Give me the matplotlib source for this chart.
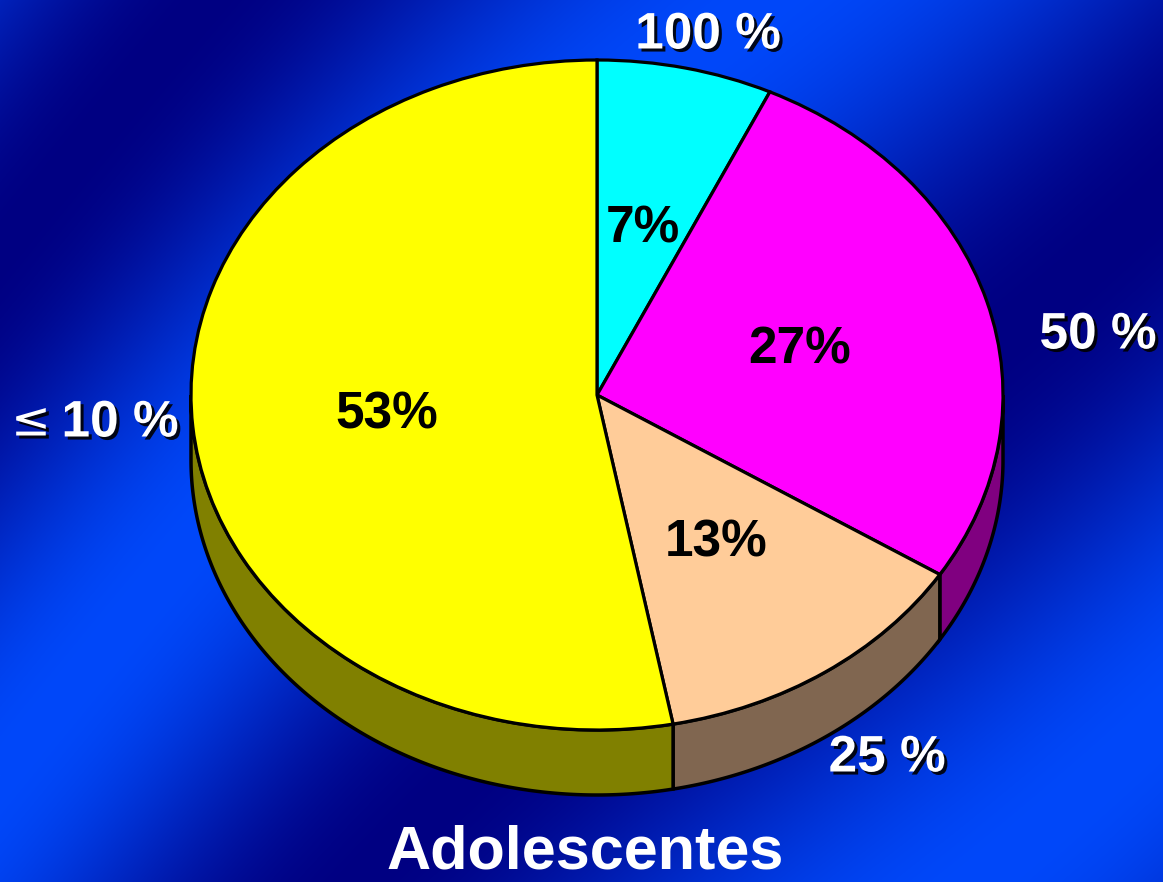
"""
3D-style pie chart: Adolescentes.
"""

import matplotlib
matplotlib.use("Agg")
import matplotlib.pyplot as plt
import matplotlib.patheffects as pe
from matplotlib.patches import Wedge, Polygon
from matplotlib.transforms import Affine2D
import numpy as np

# data
categories = ["100 %", "50 %", "25 %", "\u2264 10 %"]
shares = [7, 27, 13, 53]
top_colors = ["#00FFFF", "#FF00FF", "#FFCC99", "#FFFF00"]
side_colors = ["#008080", "#800080", "#806650", "#808000"]
title = "Adolescentes"

W, H = 1163, 882
fig = plt.figure(figsize=(W / 100, H / 100), dpi=100)
ax = fig.add_axes([0, 0, 1, 1])
ax.set_xlim(0, W)
ax.set_ylim(H, 0)
ax.axis("off")

# --- background: diagonal wavy blue gradient ---
yy, xx = np.mgrid[0:H, 0:W]
u = xx + yy + 60 * np.sin(xx / 260.0)
b = 0.5 - 0.5 * np.cos(2 * np.pi * (u - 250) / 1050.0)
dark = np.array([0, 0, 130]) / 255
bright = np.array([0, 72, 250]) / 255
bg = dark[None, None, :] + b[..., None] * (bright - dark)[None, None, :]
ax.imshow(bg, extent=(0, W, H, 0), zorder=0, aspect="auto")

# --- pie geometry (unit circle mapped to an ellipse) ---
cx, cy, rx, ry = 597, 395, 406, 335
depth = 65 / ry
tr = Affine2D().scale(rx, -ry).translate(cx, cy) + ax.transData

# slice angles, clockwise from the top
ends = 90 - 360 * np.cumsum(shares) / sum(shares)
starts = np.concatenate([[90], ends[:-1]])

# side walls (front half only)
for s, e, col in zip(starts, ends, side_colors):
    lo0, hi0 = e, s  # ccw order
    for k in (-1, 0, 1):
        lo = max(lo0 + 360 * k, 180)
        hi = min(hi0 + 360 * k, 360)
        if hi <= lo:
            continue
        t = np.radians(np.linspace(lo, hi, 200))
        top = np.column_stack([np.cos(t), np.sin(t)])
        bot = top[::-1] - [0, depth]
        ax.add_patch(Polygon(np.vstack([top, bot]), closed=True, facecolor=col,
                             edgecolor="black", linewidth=2.5, transform=tr, zorder=2))

# top faces
for s, e, col in zip(starts, ends, top_colors):
    ax.add_patch(Wedge((0, 0), 1, e, s, facecolor=col, edgecolor="black",
                       linewidth=2.3, transform=tr, zorder=3))

# inner percentage labels
for s, e, v in zip(starts, ends, shares):
    m = np.radians((s + e) / 2)
    px, py = tr.transform((0.52 * np.cos(m), 0.52 * np.sin(m)))
    px, py = ax.transData.inverted().transform((px, py))
    ax.text(px, py + 4, f"{v}%", ha="center", va="center", fontsize=37,
            fontweight="bold", family="Liberation Sans", color="black", zorder=5)

# outer category labels
shadow = [pe.SimplePatchShadow(offset=(2.2, -2.2), shadow_rgbFace="black", alpha=0.9),
          pe.Normal()]
label_pos = [(708, 35), (1098, 335), (887, 758), (120, 423)]
for lab, (px, py) in zip(categories, label_pos):
    if lab.startswith("\u2264"):
        ax.text(px - 89, py, "\u2264", ha="center", va="center", fontsize=34,
                family="DejaVu Sans", color="white", zorder=5, path_effects=shadow)
        lab = lab[2:]
    ax.text(px, py, lab, ha="center", va="center", fontsize=37, fontweight="bold",
            family="Liberation Sans", color="white", zorder=5, path_effects=shadow)

ax.text(585, 853, title, ha="center", va="center", fontsize=44, fontweight="bold",
        family="Liberation Sans", color="white", zorder=5)

fig.savefig("out.png", dpi=100)
